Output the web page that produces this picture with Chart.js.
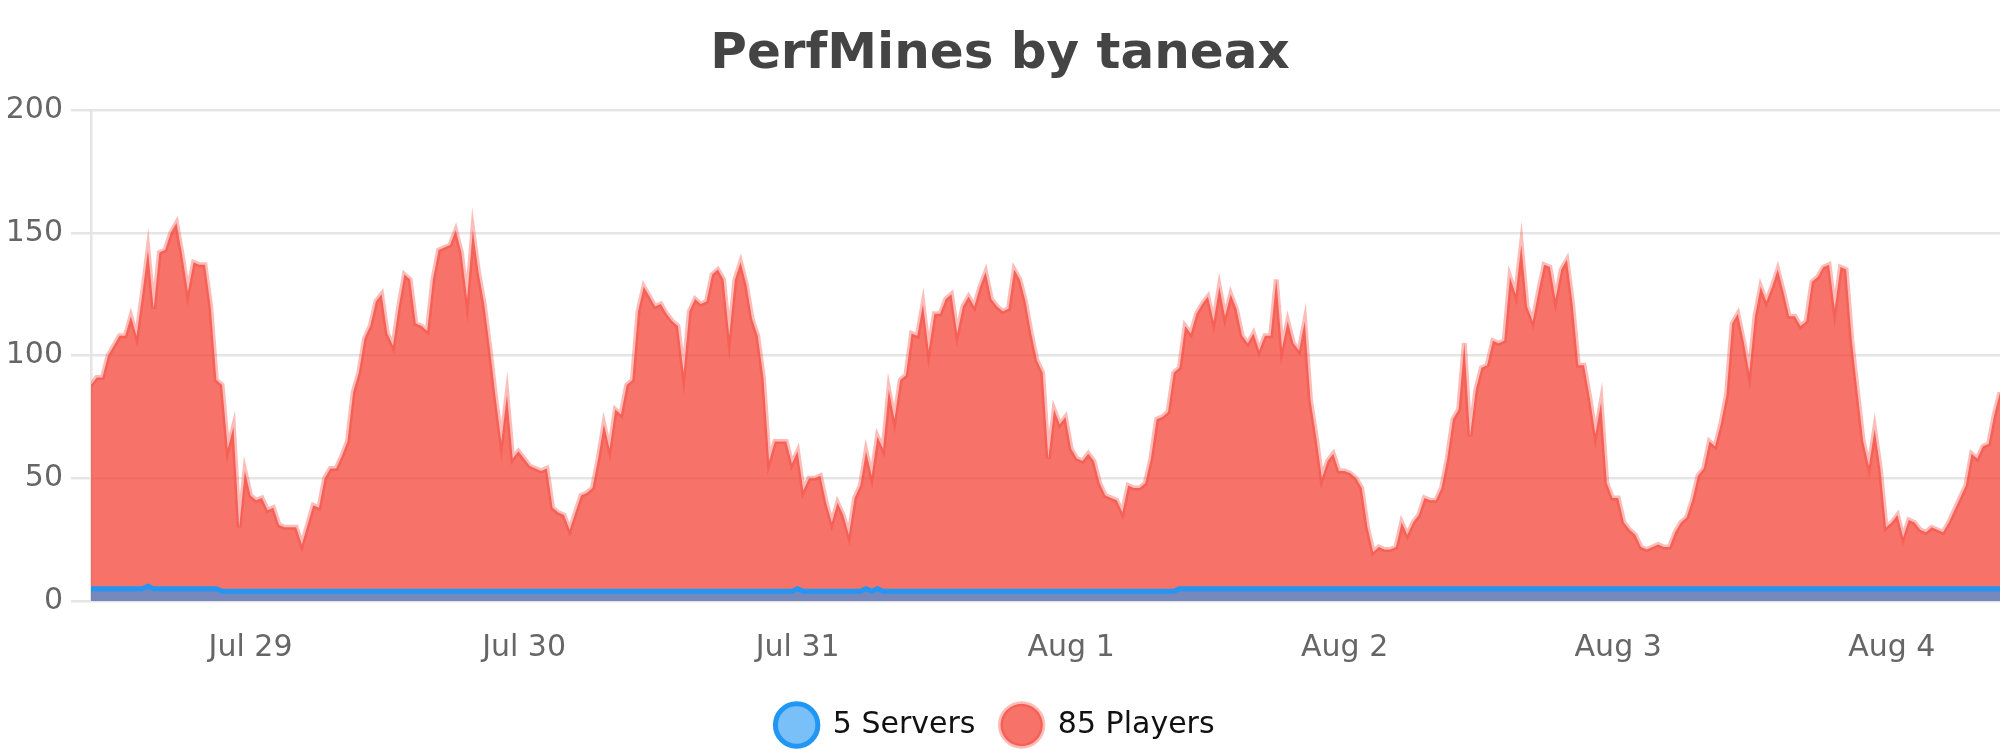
<!DOCTYPE html>
<html>
<head>
<meta charset="utf-8">
<script src="https://cdn.jsdelivr.net/npm/chart.js@4.4.1/dist/chart.umd.min.js"></script>
<style>
html, body { margin: 0; padding: 0; background: #ffffff; }
#wrap { width: 2000px; height: 750px; position: relative; }
</style>
</head>
<body>
<div id="wrap"><canvas id="c"></canvas></div>
<script>
const titleText = 'PerfMines by taneax';
const seriesNames = ['5 Servers', '85 Players'];
const startHour = -14;
const stepHours = 0.5;
const tickHours = [0, 24, 48, 72, 96, 120, 144];
const tickLabels = ['Jul 29', 'Jul 30', 'Jul 31', 'Aug 1', 'Aug 2', 'Aug 3', 'Aug 4'];
const yTicks = [0, 50, 100, 150, 200];

const servers = [
  5,5,5,5,5,5,5,5,5,5,6,5,5,5,5,5,5,5,5,5,5,5,5,4,
  4,4,4,4,4,4,4,4,4,4,4,4,4,4,4,4,4,4,4,4,4,4,4,4,
  4,4,4,4,4,4,4,4,4,4,4,4,4,4,4,4,4,4,4,4,4,4,4,4,
  4,4,4,4,4,4,4,4,4,4,4,4,4,4,4,4,4,4,4,4,4,4,4,4,
  4,4,4,4,4,4,4,4,4,4,4,4,4,4,4,4,4,4,4,4,4,4,4,4,
  4,4,4,4,5,4,4,4,4,4,4,4,4,4,4,4,5,4,5,4,4,4,4,4,
  4,4,4,4,4,4,4,4,4,4,4,4,4,4,4,4,4,4,4,4,4,4,4,4,
  4,4,4,4,4,4,4,4,4,4,4,4,4,4,4,4,4,4,4,4,4,4,4,5,
  5,5,5,5,5,5,5,5,5,5,5,5,5,5,5,5,5,5,5,5,5,5,5,5,
  5,5,5,5,5,5,5,5,5,5,5,5,5,5,5,5,5,5,5,5,5,5,5,5,
  5,5,5,5,5,5,5,5,5,5,5,5,5,5,5,5,5,5,5,5,5,5,5,5,
  5,5,5,5,5,5,5,5,5,5,5,5,5,5,5,5,5,5,5,5,5,5,5,5,
  5,5,5,5,5,5,5,5,5,5,5,5,5,5,5,5,5,5,5,5,5,5,5,5,
  5,5,5,5,5,5,5,5,5,5,5,5,5,5,5,5,5,5,5,5,5,5,5,5
];

const players = [
  88,91,91,100,104,108,108,116,108,125,143,119,142,143,150,154,141,126,138,137,137,120,90,88,
  62,71,30,53,43,41,42,37,38,31,30,30,30,23,31,39,38,50,54,54,59,65,85,93,
  107,112,122,125,109,104,120,133,131,113,112,110,131,143,144,145,151,142,123,151,134,121,103,83,
  65,84,58,61,58,55,54,53,54,38,36,35,29,36,43,44,46,58,72,62,78,76,88,90,
  118,128,124,120,121,117,114,112,93,118,123,121,122,133,135,131,108,131,138,129,115,108,91,57,
  65,65,65,56,61,45,50,50,51,40,32,40,35,27,42,47,61,51,67,62,86,74,90,92,
  109,108,121,102,117,117,123,125,109,120,124,120,128,134,123,120,118,119,135,131,122,109,98,93,
  58,78,72,75,62,58,57,60,57,48,43,42,41,36,47,46,46,48,58,74,75,77,93,95,
  112,109,117,121,124,114,128,116,125,119,108,105,109,102,108,108,131,103,114,105,102,114,82,67,
  50,57,60,53,53,52,50,46,30,20,22,21,21,22,32,27,32,35,42,41,41,46,58,74,
  78,105,67,86,95,96,106,105,106,132,125,145,120,114,126,137,136,123,135,139,121,96,96,83,
  68,81,48,42,42,32,29,27,22,21,22,23,22,22,28,32,34,41,51,54,65,63,72,84,
  113,117,106,93,116,128,122,128,135,126,116,116,112,114,130,132,136,137,119,136,135,106,85,65,
  55,70,54,30,32,35,26,33,32,29,28,30,29,28,32,37,42,47,60,58,63,64,76,85
];

const toPoints = (arr) => arr.map((v, i) => ({ x: startHour + i * stepHours, y: v }));

Chart.defaults.font.family = "'DejaVu Sans', sans-serif";

const legendShift = {
  id: 'legendShift',
  afterLayout(chart) {
    const l = chart.legend;
    if (l) { l.left -= 5; l.right -= 5; }
  }
};

new Chart(document.getElementById('c'), {
  type: 'line',
  plugins: [legendShift],
  data: {
    datasets: [
      {
        label: seriesNames[0],
        data: toPoints(servers),
        borderColor: '#2196f3',
        backgroundColor: 'rgba(33,150,243,0.6)',
        borderWidth: 5,
        fill: 'origin',
        pointRadius: 0,
        pointHoverRadius: 0,
        tension: 0
      },
      {
        label: seriesNames[1],
        data: toPoints(players),
        borderColor: 'rgba(244,67,54,0.35)',
        backgroundColor: 'rgba(244,67,54,0.75)',
        borderWidth: 5,
        fill: 'origin',
        pointRadius: 0,
        pointHoverRadius: 0,
        tension: 0
      }
    ]
  },
  options: {
    responsive: true,
    maintainAspectRatio: false,
    animation: false,
    devicePixelRatio: 1,
    layout: { padding: 0 },
    plugins: {
      title: {
        display: true,
        text: titleText,
        color: '#444444',
        font: { size: 50, weight: 'bold' },
        padding: { top: 25, bottom: 25 }
      },
      legend: {
        position: 'bottom',
        labels: {
          usePointStyle: true,
          pointStyle: 'circle',
          pointStyleWidth: 42.4,
          color: '#111111',
          font: { size: 30 },
          padding: 25
        }
      },
      tooltip: { enabled: false }
    },
    scales: {
      x: {
        type: 'linear',
        min: startHour,
        max: startHour + (players.length - 1) * stepHours,
        afterBuildTicks: (s) => { s.ticks = tickHours.map(v => ({ value: v })); },
        afterFit: (s) => { s.height = 84; },
        grid: { display: false, drawTicks: false },
        border: { display: false },
        ticks: {
          color: '#666666',
          font: { size: 30 },
          padding: 29,
          maxRotation: 0,
          autoSkip: false,
          callback: (v) => { const k = tickHours.indexOf(v); return k >= 0 ? tickLabels[k] : ''; }
        }
      },
      y: {
        min: 0,
        max: 200,
        afterBuildTicks: (s) => { s.ticks = yTicks.map(v => ({ value: v })); },
        afterFit: (s) => { s.width = 91; },
        grid: { color: 'rgba(0,0,0,0.1)', lineWidth: 2.5, tickLength: 20 },
        border: { color: 'rgba(0,0,0,0.1)', width: 2.5 },
        ticks: { color: '#666666', font: { size: 30 }, padding: 8 }
      }
    }
  }
});
</script>
</body>
</html>
